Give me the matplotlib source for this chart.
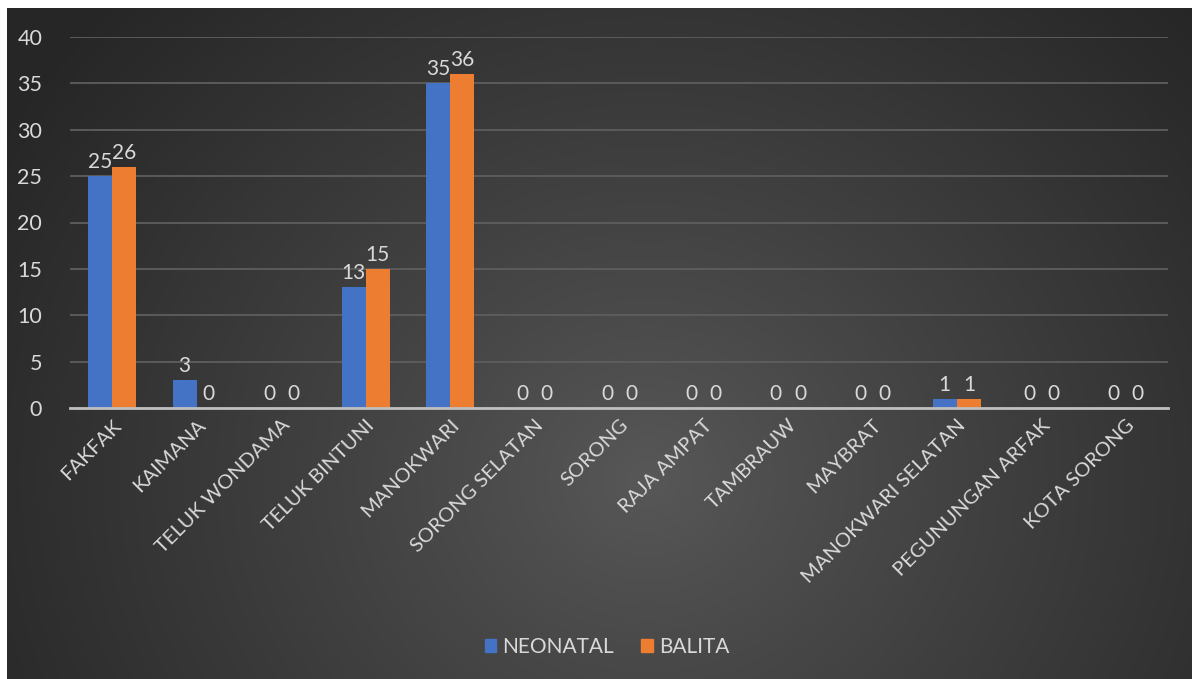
import numpy as np
import matplotlib
matplotlib.use("Agg")
import matplotlib.pyplot as plt
from matplotlib.patches import Patch

regions = ["FAKFAK", "KAIMANA", "TELUK WONDAMA", "TELUK BINTUNI", "MANOKWARI",
           "SORONG SELATAN", "SORONG", "RAJA AMPAT", "TAMBRAUW", "MAYBRAT",
           "MANOKWARI SELATAN", "PEGUNUNGAN ARFAK", "KOTA SORONG"]
neonatal = [25, 3, 0, 13, 35, 0, 0, 0, 0, 0, 1, 0, 0]
balita = [26, 0, 0, 15, 36, 0, 0, 0, 0, 0, 1, 0, 0]
y_ticks = [0, 5, 10, 15, 20, 25, 30, 35, 40]

BLUE = "#4472C4"
ORANGE = "#ED7D31"
TEXT = "#D9D9D9"
FONT = ["Lato", "DejaVu Sans"]

W, H = 1192, 679
fig = plt.figure(figsize=(W / 100, H / 100), dpi=100, facecolor="white")

# dark radial-gradient chart area
bg = fig.add_axes([7 / W, 0, 1 - 7 / W, 1 - 8 / H])
bg.set_axis_off()
yy, xx = np.mgrid[0:671, 0:1185]
cx, cy = 640, 470
r = np.sqrt(((xx - cx) / 1.0) ** 2 + ((yy - cy) / 0.9) ** 2)
t = np.clip(r / 760, 0, 1)
inner, outer = 0x58 / 255, 0x26 / 255
val = inner + (outer - inner) * t ** 0.9
img = np.dstack([val, val, val])
bg.imshow(img, aspect="auto", extent=[0, 1, 0, 1], origin="upper")
bg.set_xlim(0, 1)
bg.set_ylim(0, 1)

ax = fig.add_axes([70 / W, 271 / H, 1098 / W, 371 / H])
ax.patch.set_alpha(0)

x = np.arange(len(regions))
bw = 0.285
b1 = ax.bar(x - bw / 2, neonatal, bw, color=BLUE, zorder=3, label="NEONATAL")
b2 = ax.bar(x + bw / 2, balita, bw, color=ORANGE, zorder=3, label="BALITA")

for bars, vals in ((b1, neonatal), (b2, balita)):
    for rect, v in zip(bars, vals):
        ax.annotate(str(v), (rect.get_x() + rect.get_width() / 2, v),
                    xytext=(0, 3), textcoords="offset points",
                    ha="center", va="bottom", color=TEXT,
                    fontsize=15, family=FONT, zorder=4)

ax.set_xlim(-0.5, len(regions) - 0.5)
ax.set_ylim(0, 40)
ax.set_yticks(y_ticks)
ax.yaxis.grid(True, color="#5E5E5E", linewidth=1.3, zorder=0)
ax.set_axisbelow(True)
for s in ("top", "right", "left"):
    ax.spines[s].set_visible(False)
ax.spines["bottom"].set_color("#BFBFBF")
ax.spines["bottom"].set_linewidth(2)
ax.spines["bottom"].set_zorder(5)
ax.tick_params(axis="both", length=0, colors=TEXT)
ax.tick_params(axis="y", pad=20)
ax.tick_params(axis="x", pad=6)
for lab in ax.get_yticklabels():
    lab.set_fontsize(15.5)
    lab.set_family(FONT)

ax.set_xticks(x)
ax.set_xticklabels(regions, rotation=45, ha="right", va="top",
                   rotation_mode="anchor", fontsize=14.5, family=FONT, color=TEXT)

leg = fig.legend(handles=[Patch(color=BLUE, label="NEONATAL"),
                          Patch(color=ORANGE, label="BALITA")],
                 loc="center", bbox_to_anchor=(607 / W, 1 - 647 / H),
                 ncol=2, frameon=False, handlelength=0.55, handleheight=0.55,
                 handletextpad=0.3, columnspacing=1.3,
                 prop={"family": FONT, "size": 15})
for txt in leg.get_texts():
    txt.set_color(TEXT)

fig.savefig("out.png", dpi=100, facecolor="white")
